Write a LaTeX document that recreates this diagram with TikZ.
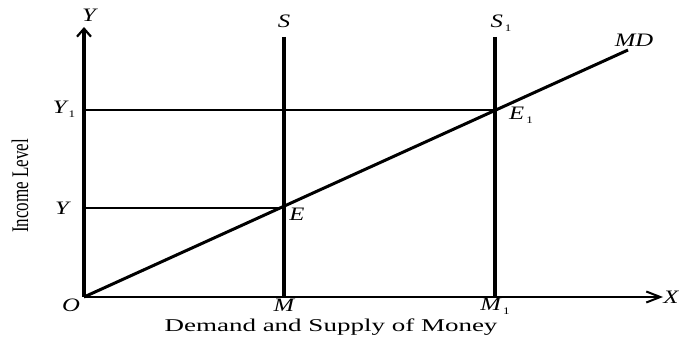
\documentclass[tikz,border=0pt]{standalone}
\usepackage{fontspec}
\setmainfont{Liberation Serif}
\usetikzlibrary{arrows.meta}

\begin{document}
\begin{tikzpicture}[
  x=1pt, y=-1pt,
  yaxis/.style={line width=3.4pt, -{Straight Barb[length=8pt, width=14pt, line width=2.2pt]}},
  xaxis/.style={line width=2.6pt, -{Straight Barb[length=14pt, width=11pt, line width=2pt]}},
  supply/.style={line width=3.6pt},
  guide/.style={line width=1.8pt},
  demand/.style={line width=3pt},
  lbl/.style={inner sep=0pt, xscale=1.3, font=\fontsize{19}{21}\selectfont\itshape}]
\newcommand{\subone}{\kern1.5pt\raisebox{-4pt}{\upshape\fontsize{10}{11}\selectfont 1}}
\useasboundingbox (0,0) rectangle (679,345);
% points of the diagram
\coordinate (O) at (84,297);
\coordinate (ytop) at (84,27);
\coordinate (xend) at (663,297);
\coordinate (E) at (284,208);
\coordinate (E1) at (495,110);
\coordinate (Stop) at (284,37);
\coordinate (S1top) at (495,37);
\coordinate (M) at (284,297);
\coordinate (M1) at (495,297);
\coordinate (Yp) at (84,208);
\coordinate (Y1p) at (84,110);
\coordinate (mdend) at (628,50);
% axes
\draw[yaxis] (O) -- (ytop);
\draw[xaxis] (O) -- (xend);
% supply lines and guides
\draw[supply] (Stop) -- (M);
\draw[supply] (S1top) -- (M1);
\draw[guide] (Yp) -- (E);
\draw[guide] (Y1p) -- (E1);
\draw[demand] (O) -- (mdend);
% labels
\node[lbl] (ylab) at (89,15) {Y};
\node[lbl] (xlab) at (671,297) {X};
\node[lbl] (olab) at (71,305) {O};
\node[lbl] (slab) at (284,21) {S};
\node[lbl] (s1lab) at (501,23) {S\subone};
\node[lbl] (mlab) at (284,305) {M};
\node[lbl] (m1lab) at (495,306) {M\subone};
\node[lbl] (elab) at (297,214) {E};
\node[lbl] (e1lab) at (521,115) {E\subone};
\node[lbl] (ylevlab) at (62,208) {Y};
\node[lbl] (y1levlab) at (64,109) {Y\subone};
\node[lbl] (mdlab) at (634,40) {MD};
\node (income) at (20,186) [rotate=90, yscale=1.4] {\fontsize{17}{19}\selectfont Income Level};
\node (money) at (331,327) [xscale=1.5] {\fontsize{18}{20}\selectfont Demand and Supply of Money};
\end{tikzpicture}
\end{document}
